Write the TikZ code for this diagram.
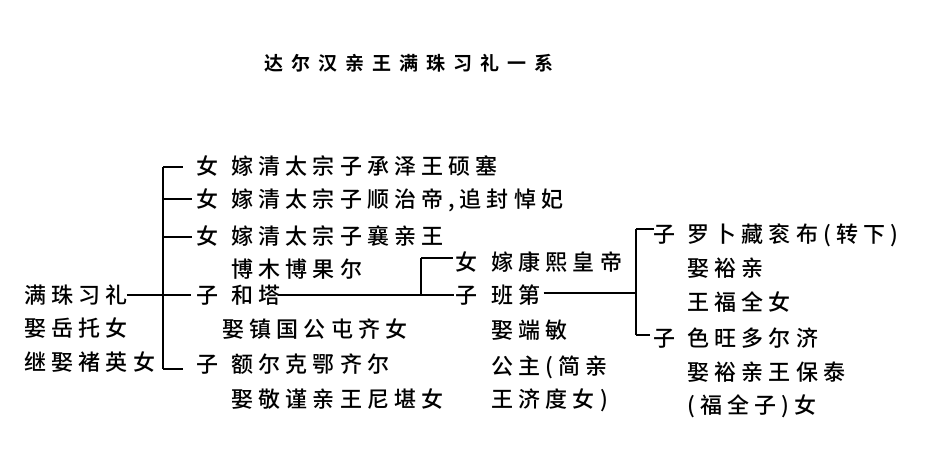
\documentclass[tikz,border=0pt]{standalone}
\usepackage{fontspec}
\newfontfamily\cjk[LetterSpace=23,UprightFont=* Medium]{Noto Sans CJK SC}
\newfontfamily\cjktitle[LetterSpace=42,UprightFont=* Bold]{Noto Sans CJK SC}
\begin{document}
\begin{tikzpicture}[x=1pt,y=-1pt,line width=1.6pt,
    every node/.style={anchor=west,inner sep=0pt,
      font=\cjk\fontsize{22}{22}\selectfont,
      text height=19.4pt,text depth=2.6pt}]
  \useasboundingbox (0,0) rectangle (949,448);
  \path
    (264,62) node[font=\cjktitle\fontsize{19}{19}\selectfont] (t){达尔汉亲王满珠习礼一系}
    (24,295) node (mz){满珠习礼}
    (24,328) node (mz1){娶岳托女}
    (24,362) node (mz2){继娶褚英女}
    (196,166) node (d1){女}
    (231,166) node (d1t){嫁清太宗子承泽王硕塞}
    (196,199) node (d2){女}
    (231,199) node (d2t){嫁清太宗子顺治帝,追封悼妃}
    (196,236) node (d3){女}
    (231,236) node (d3t){嫁清太宗子襄亲王}
    (231,269) node (d3u){博木博果尔}
    (196,295) node (s1){子}
    (231,295) node (s1t){和塔}
    (222,329) node (s1u){娶镇国公屯齐女}
    (196,364) node (s2){子}
    (231,364) node (s2t){额尔克鄂齐尔}
    (231,399) node (s2u){娶敬谨亲王尼堪女}
    (455,262) node (m1){女}
    (491,262) node (m1t){嫁康熙皇帝}
    (455,295) node (m2){子}
    (491,295) node (m2t){班第}
    (491,330) node (m2u){娶端敏}
    (491,366) node (m2v){公主(简亲}
    (491,399) node (m2w){王济度女)}
    (653,234) node (r1){子}
    (687,234) node (r1t){罗卜藏衮布(转下)}
    (687,268) node (r1u){娶裕亲}
    (687,302) node (r1v){王福全女}
    (653,338) node (r2){子}
    (687,338) node (r2t){色旺多尔济}
    (687,372) node (r2u){娶裕亲王保泰}
    (687,405) node (r2v){(福全子)女};
  \coordinate (a1) at (163,167);
  \coordinate (a2) at (163,199);
  \coordinate (a3) at (163,237);
  \coordinate (a4) at (163,369);
  \coordinate (b1) at (421,258);
  \coordinate (b2) at (421,295);
  \coordinate (c1) at (636,229);
  \coordinate (c2) at (636,293);
  \coordinate (c3) at (636,335);
  \begin{scope}[-]
    \draw (a1) -- (a4);
    \draw[shorten >=13pt] (a1) to (a1 -| d1.west);
    \draw[shorten >=4pt] (a2) to (a2 -| d2.west);
    \draw[shorten >=4pt] (a3) to (a3 -| d3.west);
    \draw[shorten <=-2pt,shorten >=5pt] (mz.east |- s1.west) coordinate (mzr) -- (mzr -| s1.west);
    \draw[shorten >=13pt] (a4) to (a4 -| s2.west);
    \draw (b1) -- (b2);
    \draw[shorten >=2pt] (b1) to (b1 -| m1.west);
    \draw[shorten <=-4pt,shorten >=1pt] (s1t.east) to (s1t.east -| m2.west);
    \draw (c1) -- (c3);
    \draw[shorten >=-1pt] (c1) to (c1 -| r1.west);
    \draw[shorten >=3pt] (c3) to (c3 -| r2.west);
    \draw[shorten <=2pt] (m2t.east |- c2) to (c2);
  \end{scope}
\end{tikzpicture}
\end{document}
